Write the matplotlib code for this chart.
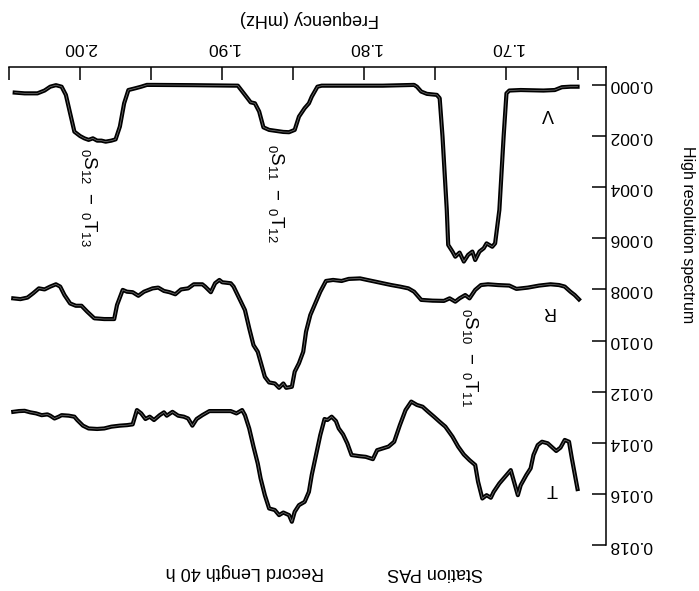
"""High resolution spectrum, station PAS (record length 40 h).

The reference figure is printed upside down (rotated 180 deg), so the axes are
inverted and every text is turned round to match it.
"""

import numpy as np
import matplotlib
matplotlib.use("Agg")
import matplotlib.pyplot as plt

plt.rcParams["font.family"] = ["Liberation Sans", "DejaVu Sans"]
plt.rcParams["mathtext.fontset"] = "custom"
plt.rcParams["mathtext.rm"] = "Liberation Sans"
plt.rcParams["mathtext.it"] = "Liberation Sans"

# frequency in mHz, spectral amplitude in units of 1e-3
V_FREQ = [2.046, 2.039, 2.030, 2.025, 2.021, 2.017, 2.013, 2.010, 2.007, 2.004,
          2.000, 1.997, 1.994, 1.991, 1.988, 1.985, 1.982, 1.978, 1.975, 1.972,
          1.969, 1.966, 1.961, 1.957, 1.953, 1.948, 1.921, 1.889, 1.884, 1.880,
          1.877, 1.874, 1.871, 1.867, 1.862, 1.857, 1.853, 1.849, 1.846, 1.842,
          1.839, 1.837, 1.833, 1.830, 1.814, 1.787, 1.765, 1.763, 1.760, 1.756,
          1.749, 1.747, 1.745, 1.742, 1.741, 1.738, 1.736, 1.733, 1.730, 1.727,
          1.724, 1.722, 1.719, 1.716, 1.714, 1.710, 1.708, 1.705, 1.702, 1.700,
          1.698, 1.690, 1.674, 1.666, 1.661, 1.655, 1.650]
V_AMP = [0.30, 0.33, 0.33, 0.22, 0.07, 0.01, 0.07, 0.39, 1.11, 1.83,
         2.00, 2.09, 2.15, 2.09, 2.18, 2.18, 2.22, 2.18, 2.13, 1.63,
         0.72, 0.20, 0.13, 0.07, 0.00, 0.00, 0.01, 0.03, 0.39, 0.68,
         0.72, 1.04, 1.66, 1.76, 1.80, 1.84, 1.85, 1.76, 1.24, 0.91,
         0.72, 0.46, 0.07, 0.03, 0.03, 0.03, 0.00, 0.07, 0.26, 0.35,
         0.39, 0.52, 2.02, 4.89, 6.26, 6.52, 6.72, 6.56, 6.91, 6.65,
         6.52, 6.85, 6.52, 6.39, 6.20, 6.33, 6.20, 4.89, 2.02, 0.33,
         0.22, 0.20, 0.22, 0.20, 0.09, 0.07, 0.07]

R_FREQ = [2.047, 2.042, 2.037, 2.033, 2.029, 2.025, 2.021, 2.017, 2.014, 2.011,
          2.007, 2.003, 1.999, 1.995, 1.990, 1.983, 1.976, 1.974, 1.970, 1.967,
          1.963, 1.959, 1.955, 1.949, 1.945, 1.941, 1.937, 1.933, 1.929, 1.924,
          1.920, 1.914, 1.912, 1.908, 1.905, 1.902, 1.900, 1.894, 1.892, 1.888,
          1.884, 1.881, 1.878, 1.875, 1.873, 1.870, 1.867, 1.863, 1.860, 1.857,
          1.855, 1.851, 1.849, 1.846, 1.843, 1.841, 1.838, 1.835, 1.831, 1.827,
          1.822, 1.816, 1.811, 1.803, 1.798, 1.792, 1.787, 1.781, 1.775, 1.769,
          1.765, 1.760, 1.752, 1.744, 1.740, 1.736, 1.733, 1.729, 1.726, 1.722,
          1.718, 1.713, 1.706, 1.698, 1.693, 1.685, 1.677, 1.669, 1.663, 1.659,
          1.655, 1.652, 1.649]
R_AMP = [8.35, 8.38, 8.32, 8.15, 7.96, 8.00, 7.89, 7.80, 7.89, 8.22,
         8.55, 8.64, 8.64, 8.87, 9.13, 9.16, 9.16, 8.61, 8.02, 8.09,
         8.11, 8.25, 8.09, 7.96, 7.93, 8.06, 8.11, 8.19, 8.00, 7.96,
         7.80, 7.80, 7.89, 8.11, 7.76, 7.63, 7.72, 7.76, 7.89, 8.35,
         8.81, 9.52, 10.18, 10.44, 10.83, 11.42, 11.64, 11.68, 11.85, 11.68,
         11.85, 11.81, 11.22, 10.89, 10.44, 9.65, 9.00, 8.61, 8.09, 7.67,
         7.63, 7.67, 7.59, 7.57, 7.63, 7.70, 7.76, 7.83, 7.89, 7.96,
         8.09, 8.41, 8.44, 8.45, 8.35, 8.48, 8.35, 8.22, 8.35, 8.02,
         7.83, 7.80, 7.83, 7.85, 7.98, 7.93, 7.85, 7.80, 7.83, 7.89,
         8.09, 8.22, 8.39]

T_FREQ = [2.047, 2.043, 2.039, 2.035, 2.031, 2.027, 2.023, 2.021, 2.018, 2.015,
          2.013, 2.008, 2.004, 2.002, 1.998, 1.994, 1.988, 1.983, 1.978, 1.972,
          1.967, 1.963, 1.960, 1.957, 1.954, 1.951, 1.948, 1.944, 1.941, 1.939,
          1.935, 1.931, 1.927, 1.924, 1.921, 1.918, 1.914, 1.909, 1.902, 1.894,
          1.890, 1.886, 1.884, 1.881, 1.878, 1.875, 1.873, 1.870, 1.867, 1.863,
          1.860, 1.857, 1.853, 1.851, 1.849, 1.846, 1.842, 1.839, 1.837, 1.834,
          1.831, 1.828, 1.826, 1.823, 1.820, 1.818, 1.815, 1.812, 1.809, 1.804,
          1.799, 1.794, 1.791, 1.787, 1.783, 1.779, 1.775, 1.771, 1.767, 1.763,
          1.759, 1.755, 1.751, 1.747, 1.743, 1.738, 1.734, 1.730, 1.726, 1.722,
          1.720, 1.717, 1.714, 1.711, 1.709, 1.705, 1.701, 1.697, 1.694, 1.692,
          1.690, 1.686, 1.683, 1.681, 1.678, 1.675, 1.671, 1.667, 1.665, 1.662,
          1.659, 1.656, 1.654, 1.650]
T_AMP = [12.79, 12.76, 12.75, 12.81, 12.85, 12.92, 12.89, 12.94, 13.05, 12.98,
         12.92, 12.94, 12.98, 13.11, 13.33, 13.44, 13.46, 13.44, 13.37, 13.33,
         13.31, 13.28, 12.72, 12.85, 13.07, 12.98, 13.11, 12.92, 12.81, 12.94,
         12.79, 12.94, 12.98, 13.05, 13.33, 13.07, 12.92, 12.76, 12.76, 12.76,
         12.85, 12.72, 12.92, 13.44, 14.15, 14.81, 15.39, 16.05, 16.57, 16.63,
         16.83, 16.73, 16.83, 17.09, 16.70, 16.44, 16.31, 15.92, 15.26, 14.48,
         13.70, 13.07, 13.11, 12.98, 13.15, 13.44, 13.67, 14.02, 14.48, 14.52,
         14.55, 14.64, 14.29, 14.22, 14.15, 13.96, 13.31, 12.72, 12.39, 12.52,
         12.59, 12.79, 12.98, 13.18, 13.37, 13.76, 14.15, 14.46, 14.68, 14.87,
         15.52, 16.18, 16.05, 16.15, 15.92, 15.59, 15.33, 15.07, 15.66, 16.05,
         15.66, 15.26, 15.00, 14.48, 14.09, 13.96, 14.02, 14.22, 14.32, 14.19,
         13.89, 13.96, 14.61, 15.81]

COMPONENTS = ["V", "R", "T"]
COMP_POS = [(1.671, 1.10), (1.671, 8.85), (1.668, 15.80)]   # (mHz, 1e-3)
MODES = [r"${}_{0}\mathrm{S}_{12}\ -\ {}_{0}\mathrm{T}_{13}$",
         r"${}_{0}\mathrm{S}_{11}\ -\ {}_{0}\mathrm{T}_{12}$",
         r"${}_{0}\mathrm{S}_{10}\ -\ {}_{0}\mathrm{T}_{11}$"]
MODE_POS = [(1.994, 4.42), (1.862, 4.23), (1.7255, 10.65)]

X_MAJOR = [1.70, 1.80, 1.90, 2.00]
X_MINOR = [1.65, 1.75, 1.85, 1.95, 2.05]
Y_TICKS = [0.000, 0.002, 0.004, 0.006, 0.008, 0.010, 0.012, 0.014, 0.016, 0.018]


def trace(ax, f, a):
    a = np.asarray(a) * 1e-3
    ax.plot(f, a, color="black", lw=3.0, solid_joinstyle="round", zorder=3)
    ax.plot(f, a, color="#7a7a7a", lw=0.5, zorder=4)


fig = plt.figure(figsize=(6.99, 5.91), dpi=100)
ax = fig.add_axes([0.0129, 0.0778, 0.854, 0.8088])

for f, a in [(V_FREQ, V_AMP), (R_FREQ, R_AMP), (T_FREQ, T_AMP)]:
    trace(ax, f, a)

# upside-down figure: frequency runs right-to-left, amplitude top-to-bottom
ax.set_xlim(2.05, 1.63)
ax.set_ylim(0.018, -0.0007)

ax.spines["bottom"].set_visible(False)
ax.spines["left"].set_visible(False)
for s in ("top", "right"):
    ax.spines[s].set_linewidth(1.1)

ax.xaxis.tick_top()
ax.yaxis.tick_right()
ax.set_xticks(X_MAJOR, [f"{x:.2f}" for x in X_MAJOR], rotation=180, fontsize=12.5)
ax.set_xticks(X_MINOR, minor=True)
ax.set_yticks(Y_TICKS, [f"{y:.3f}" for y in Y_TICKS], rotation=180, va="center",
              fontsize=12.5)
ax.tick_params(axis="x", which="both", direction="in", length=9, width=1.1, pad=9)
ax.tick_params(axis="y", direction="in", length=10, width=1.1, pad=2)

ax.text(0.504, 1.101, "Frequency (mHz)", transform=ax.transAxes, rotation=180,
        ha="center", va="center", fontsize=13)
ax.text(1.137, 0.649, "High resolution spectrum", transform=ax.transAxes,
        rotation=270, ha="center", va="center", fontsize=11.5)
ax.text(0.714, -0.058, "Station PAS", transform=ax.transAxes, rotation=180,
        ha="center", va="center", fontsize=13)
ax.text(0.395, -0.055, "Record Length 40 h", transform=ax.transAxes, rotation=180,
        ha="center", va="center", fontsize=13)

for name, (f, a) in zip(COMPONENTS, COMP_POS):
    ax.text(f, a * 1e-3, name, rotation=180, ha="center", va="center", fontsize=13)
for lab, (f, a) in zip(MODES, MODE_POS):
    ax.text(f, a * 1e-3, lab, rotation=270, ha="center", va="center", fontsize=13.5)

fig.savefig("out.png", dpi=100)
